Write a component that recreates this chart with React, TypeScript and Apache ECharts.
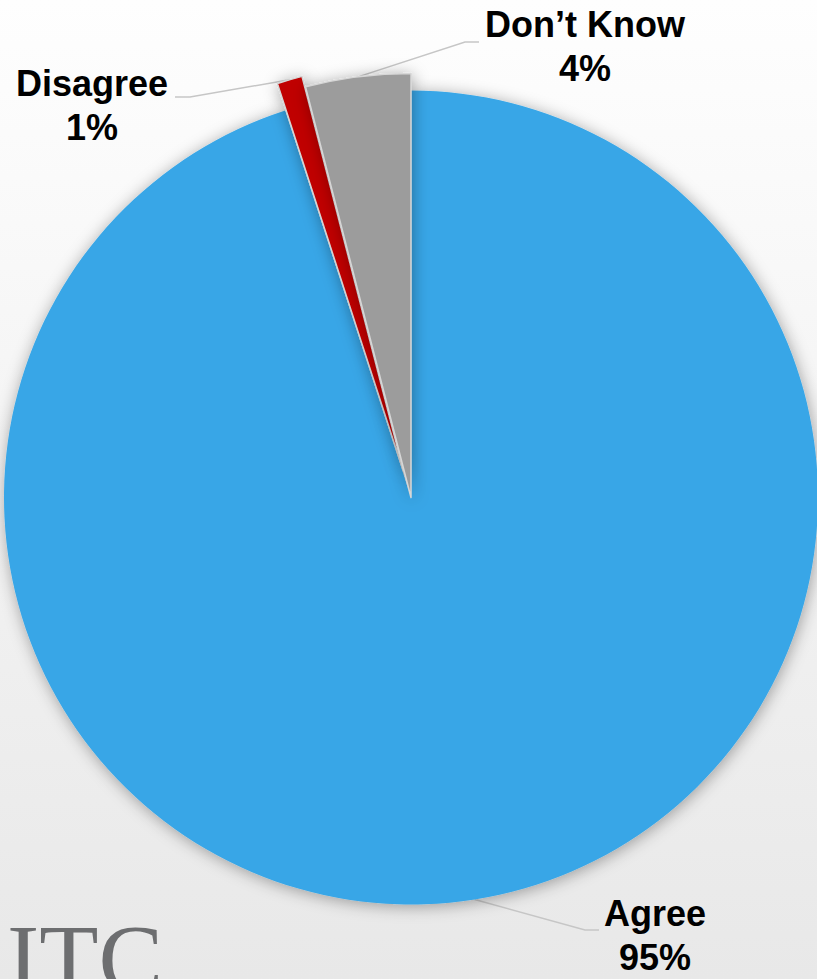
import React, { useEffect, useRef } from 'react';
import * as echarts from 'echarts';

// ---- data ----
const categories = ['Agree', 'Disagree', 'Don\u2019t Know'];
const values = [95, 1, 4];
const colors = ['#37A6E7', '#C00000', '#9C9C9C'];

// ---- layout ----
const W = 817;
const H = 979;
const CENTER = [411, 497.5];
const RADIUS_MAIN = 407;
const RADIUS_DK = 424;
const RED_OFFSET = 28; // explosion distance of the "Disagree" slice

const labelSpots = [
  { x: 655, y: 935, knee: [585, 930], end: [599, 930] },
  { x: 92, y: 105, knee: [190, 97], end: [175, 97] },
  { x: 585, y: 46.5, knee: [465, 42], end: [479, 42] },
];

const shadow = {
  shadowBlur: 16,
  shadowColor: 'rgba(0,0,0,0.35)',
  shadowOffsetX: 1,
  shadowOffsetY: 2,
};

const labelStyle = {
  show: true,
  position: 'outside',
  formatter: '{b}\n{c}%',
  fontFamily: 'Arial, "Liberation Sans", sans-serif',
  fontWeight: 'bold',
  fontSize: 36,
  lineHeight: 44,
  color: '#000',
  align: 'center',
};

const labelLineStyle = {
  show: true,
  smooth: false,
  lineStyle: { color: '#C6C6C6', width: 1.5 },
};

const makeLayout = (params: any) => {
  const s = labelSpots[params.dataIndex];
  const p = params.labelLinePoints;
  const start = p && p[0] ? p[0] : s.knee;
  return {
    x: s.x,
    y: s.y,
    align: 'center',
    verticalAlign: 'middle',
    labelLinePoints: [start, s.knee, s.end],
  };
};

const hidden = {
  itemStyle: { color: 'rgba(0,0,0,0)', borderWidth: 0, shadowBlur: 0, shadowColor: 'rgba(0,0,0,0)' },
  label: { show: false },
  labelLine: { show: false },
};

// mid-angle of a slice (clockwise from 12 o'clock), derived from the data
const midAngle = (idx: number) => {
  const total = values.reduce((a, b) => a + b, 0);
  const before = values.slice(0, idx).reduce((a, b) => a + b, 0);
  return ((before + values[idx] / 2) / total) * 2 * Math.PI;
};

const buildData = (visibleIdx: number[]) =>
  categories.map((name, i) => {
    if (!visibleIdx.includes(i)) return { name, value: values[i], ...hidden };
    return {
      name,
      value: values[i],
      itemStyle: {
        color: colors[i],
        borderColor: i === 0 ? colors[i] : '#D6D6D6',
        borderWidth: i === 0 ? 0 : 1.5,
        ...shadow,
      },
    };
  });

const baseSeries = {
  type: 'pie',
  startAngle: 90,
  clockwise: true,
  avoidLabelOverlap: false,
  silent: true,
  emphasis: { disabled: true },
  label: labelStyle,
  labelLine: labelLineStyle,
  labelLayout: makeLayout,
};

export default function App() {
  const ref = useRef<HTMLDivElement>(null);
  useEffect(() => {
    if (!ref.current) return;
    const chart = echarts.init(ref.current, undefined, { renderer: 'svg', width: W, height: H });

    const a = midAngle(1);
    const redCenter = [CENTER[0] + RED_OFFSET * Math.sin(a), CENTER[1] - RED_OFFSET * Math.cos(a)];

    chart.setOption({
      animation: false,
      backgroundColor: 'transparent',
      series: [
        { ...baseSeries, center: CENTER, radius: [0, RADIUS_MAIN], data: buildData([0]), z: 2 },
        { ...baseSeries, center: redCenter, radius: [0, RADIUS_MAIN], data: buildData([1]), z: 3 },
        { ...baseSeries, center: CENTER, radius: [0, RADIUS_DK], data: buildData([2]), z: 4 },
      ],
      graphic: [
        {
          type: 'text',
          left: 7,
          top: 911,
          z: 1,
          style: {
            text: 'ITC',
            fill: '#6D6E70',
            font: 'normal 97px "Liberation Serif", "Times New Roman", serif',
          },
        },
      ],
    });
    return () => chart.dispose();
  }, []);

  return (
    <div
      style={{
        position: 'fixed',
        left: 0,
        top: 0,
        width: W,
        height: H,
        overflow: 'hidden',
        background: 'linear-gradient(to bottom, #FEFEFE 0%, #F3F3F3 50%, #E8E8E8 100%)',
      }}
    >
      <div ref={ref} style={{ width: W, height: H }} />
    </div>
  );
}
